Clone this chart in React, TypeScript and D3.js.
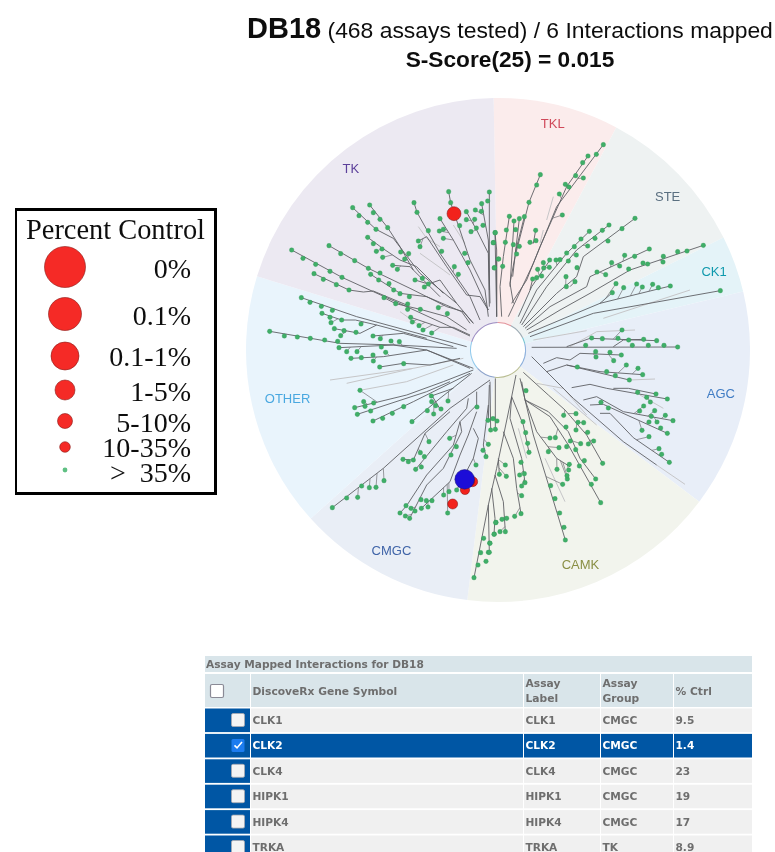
import React from "react";
import * as d3 from "d3";

type Pt = number[];

// kinome sectors, clockwise from north (degrees)
const sectorNames = ["TKL", "STE", "CK1", "AGC", "CAMK", "CMGC", "OTHER", "TK"];
const sectorStart = [-1, 28, 63.5, 76.6, 127, 187, 228, 287];
const sectorEnd = [28, 63.5, 76.6, 127, 187, 228, 287, 359];
const sectorFill = ["#fbecec", "#eef2f2", "#e4f3f8", "#e8eef8", "#f2f4ed", "#e9eef6", "#e9f4fc", "#ece9f2"];
const sectorInk = ["#d04a5a", "#5a6f80", "#1199ad", "#3f7cc4", "#8a8f45", "#3f64a8", "#4aa8e0", "#5b3f9a"];
const labelAngle = [13.6, 47.8, 70, 101, 159, 208, 257, 321];
const labelRadius = [233, 229, 230, 227, 230, 227, 216, 234];

// tree, one set per quadrant of the map
const tkLeaves: Pt[] = [[155,480],[189,505],[227,523],[270,544],[306,562],[222,551],[250,568],[289,584],[327,600],[267,467],[302,491],[344,512],[385,535],[420,549],[392,553],[416,570],[447,581],[461,600],[480,611],[508,620],[432,623],[467,641],[503,642],[503,658],[541,658],[595,653],[622,671],[512,682],[517,696],[537,707],[549,720],[575,729],[338,353],[357,377],[383,397],[408,418],[389,345],[400,368],[420,388],[443,413],[383,442],[400,461],[409,484],[426,477],[428,502],[482,486],[506,491],[494,507],[458,526],[472,538],[525,570],[547,565],[565,582],[553,591],[522,338],[531,367],[565,422],[598,423],[610,418],[610,445],[600,386],[535,453],[540,470],[605,484],[626,305],[632,338],[659,407],[674,490],[684,518],[643,530],[655,553],[679,365],[679,389],[706,360],[704,388],[725,341],[724,364],[743,333],[748,306],[693,425],[709,414],[729,406],[765,428],[760,458],[775,507],[763,533]];
const tkLimbs: Pt[][] = [
  [[690,738],[620,705],[500,650],[400,605],[306,562],[155,480]],
  [[500,645],[400,603],[370,606],[327,600],[222,551]],
  [[700,700],[670,665],[620,650],[510,595],[385,535],[267,467]],
  [[690,735],[640,712],[600,712],[512,682]],
  [[690,700],[665,665],[560,620],[480,610],[392,553]],
  [[680,720],[620,680],[541,658],[467,641],[432,623]],
  [[700,700],[650,640],[540,550],[460,445],[408,418],[338,353]],
  [[520,540],[480,470],[443,413],[389,345]],
  [[610,610],[530,530],[480,510],[428,475],[383,442]],
  [[600,620],[510,530],[458,526]],
  [[650,640],[600,570],[565,582],[525,570]],
  [[720,690],[690,620],[600,490],[531,367],[522,338]],
  [[745,660],[690,540],[640,450],[600,386]],
  [[745,660],[720,620],[680,615],[620,530],[560,440],[535,453]],
  [[745,680],[735,600],[690,510],[632,338],[626,305]],
  [[748,650],[745,490],[710,420],[679,365]],
  [[750,640],[745,450],[725,341]],
  [[748,600],[748,306]],
  [[770,680],[770,480],[765,428]],
  [[770,680],[770,510],[775,507]],
];
const tkGhosts: Pt[][] = [[[535,410],[560,445],[600,470]],[[540,490],[610,540],[630,555]],[[640,405],[675,460]],[[480,665],[530,700]]];

const otherNorthLeaves: Pt[] = [[184,623],[210,637],[244,649],[277,661],[246,670],[270,682],[305,690],[273,698],[363,702],[283,716],[312,722],[348,727],[302,737],[399,738],[421,746],[453,753],[478,755],[89,724],[133,738],[172,741],[211,745],[254,750],[293,754]];
const otherNorthLimbs: Pt[][] = [
  [[650,775],[470,765],[300,760],[89,724]],
  [[640,770],[490,730],[399,738]],
  [[680,770],[350,680],[184,623]],
  [[560,745],[410,705],[346,690],[305,690],[246,670]],
  [[410,705],[360,730],[283,716]],
];
const otherSouthLeaves: Pt[] = [[297,8],[320,20],[351,20],[424,6],[437,22],[333,40],[364,38],[399,30],[400,48],[419,66],[491,56],[360,136],[574,153],[371,170],[401,174],[375,184],[344,188],[392,198],[352,208],[491,185],[457,205],[428,220],[399,228],[516,230],[562,197],[581,207],[603,192],[587,182],[575,170],[624,168]];
const otherSouthLimbs: Pt[][] = [
  [[690,70],[560,15],[460,0],[297,8]],
  [[700,70],[560,15],[430,35],[333,40]],
  [[660,40],[570,60],[490,55],[419,66]],
  [[700,75],[610,110],[500,150],[344,188]],
  [[630,110],[560,140],[352,208]],
  [[690,85],[600,130],[520,170],[399,228]],
  [[695,85],[600,160],[516,230]],
  [[640,130],[574,153]],
  [[575,150],[600,192]],
];
const otherSouthGhosts: Pt[][] = [[[670,40],[520,70],[270,105]],[[520,70],[320,115]],[[640,60],[500,110],[360,136]]];

const cmgcLeaves: Pt[] = [[277,488],[320,459],[353,457],[365,423],[388,428],[408,427],[432,407],[489,343],[505,350],[520,345],[541,323],[553,335],[567,290],[527,373],[544,366],[629,280],[649,305],[633,330],[711,186],[744,226],[759,221],[771,228],[752,255],[766,253],[745,298],[729,316],[738,335],[708,360],[650,435],[627,440],[611,450],[576,467],[559,467],[543,464],[498,482],[513,490],[480,504],[496,513],[509,520],[525,498],[544,490],[564,486],[623,504]];
const cmgcLimbs: Pt[][] = [
  [[750,105],[630,190],[430,370],[277,488]],
  [[630,200],[555,265],[520,345],[489,343]],
  [[685,160],[680,190],[620,260],[527,373]],
  [[710,140],[710,180],[660,230],[640,300],[560,390],[500,482],[480,504]],
  [[660,230],[665,260],[610,370],[560,420],[509,520]],
  [[710,200],[685,270],[660,330],[630,410],[544,490]],
  [[700,250],[715,280],[700,340],[650,435]],
  [[748,120],[745,226]],
  [[750,110],[752,255]],
  [[766,100],[766,253]],
  [[745,180],[730,300],[738,335]],
];

const camkWestLeaves: Pt[] = [[768,532],[763,567],[731,580],[749,594],[722,623],[745,622],[738,649],[714,660],[702,698]];
const camkLeaves: Pt[] = [[108,137],[99,230],[107,263],[113,295],[117,322],[93,352],[46,360],[28,388],[49,394],[89,390],[103,386],[105,413],[95,423],[95,452],[93,506],[74,514],[50,520],[36,523],[17,533],[12,568],[30,560],[46,560],[0,595],[-2,622],[182,422],[218,418],[195,461],[209,504],[222,547],[226,585],[201,373],[232,402],[236,375],[238,358],[231,392],[268,363],[283,347],[338,355],[317,402],[304,418],[332,473],[175,320],[207,308],[180,279],[196,278],[228,246],[221,211],[258,206],[264,232],[281,233],[258,255],[293,262],[241,288],[230,305],[257,314],[272,296],[295,297],[311,288]];
const camkLimbs: Pt[][] = [
  [[100,82],[175,150],[225,195],[290,270],[338,355]],
  [[105,165],[175,200],[235,260],[270,340],[317,402]],
  [[105,165],[180,215],[235,300],[332,473]],
  [[95,110],[105,165],[140,260],[200,340],[240,365]],
  [[90,100],[130,270],[226,585]],
  [[78,90],[65,155],[100,240],[117,322]],
  [[65,155],[60,220],[95,340],[105,413]],
  [[40,260],[70,340],[80,430],[93,506]],
  [[65,155],[20,370],[-5,480],[-48,698]],
  [[25,340],[28,388]],
  [[15,390],[40,470],[46,560]],
  [[5,430],[15,520],[12,568]],
  [[-5,480],[-2,622]],
];
const camkGhosts: Pt[][] = [[[140,115],[220,130],[290,210]],[[190,130],[320,240]],[[165,340],[225,470]],[[85,250],[110,340]]];

const agcNorthLeaves: Pt[] = [[396,720],[305,744],[337,746],[384,745],[416,750],[461,748],[500,752],[522,766],[563,771],[287,766],[427,766],[475,766]];
const agcNorthLimbs: Pt[][] = [[[125,772],[563,771]],[[230,770],[300,745],[500,752]],[[370,770],[400,750],[461,748]]];
const agcNorthGhosts: Pt[][] = [[[240,770],[320,725],[435,720]]];
const agcLeaves: Pt[] = [[317,20],[360,22],[394,30],[318,36],[371,47],[262,66],[409,60],[444,70],[350,80],[376,92],[458,89],[418,105],[443,142],[470,157],[498,147],[532,162],[481,171],[461,183],[333,172],[355,189],[449,198],[494,197],[526,211],[549,227],[484,214],[477,231],[501,231],[512,249],[532,265],[456,256],[477,275],[507,311],[515,328],[538,352]];
const agcLimbs: Pt[][] = [
  [[160,55],[200,38],[240,45],[270,25],[394,30]],
  [[170,80],[230,60],[330,80],[458,89]],
  [[230,60],[418,105]],
  [[245,128],[300,118],[350,130],[532,162]],
  [[280,165],[320,155],[400,200],[549,227]],
  [[300,180],[340,178],[532,265]],
  [[330,205],[360,205],[430,278],[538,352]],
  [[125,35],[250,160],[400,290],[500,360]],
  [[370,130],[415,130],[498,147]],
];
const agcGhosts: Pt[][] = [[[418,105],[495,102]],[[500,360],[585,418]],[[450,150],[520,190]]];

const ck1Leaves: Pt[] = [[691,602],[541,588],[505,593],[488,583],[457,591],[440,582],[401,593],[378,581],[367,608]];
const ck1Limbs: Pt[][] = [[[115,730],[330,640],[541,588]],[[120,740],[310,670],[691,602]],[[330,640],[367,608]]];
const ck1Ghosts: Pt[][] = [[[340,685],[600,600]],[[130,750],[290,722]]];
const steLeaves: Pt[] = [[640,466],[591,483],[563,485],[520,499],[519,516],[473,522],[459,519],[478,477],[434,499],[416,537],[404,496],[389,528],[365,518],[347,554],[321,546],[255,575],[229,590],[228,560],[261,533],[235,513],[259,495],[230,489],[253,470],[273,447],[298,424],[315,445],[293,468],[337,421],[357,405],[396,416],[354,453],[435,385],[210,509],[198,510],[179,510],[160,518],[161,534],[143,538],[178,532],[155,558],[140,563],[128,567]];
const steLimbs: Pt[][] = [
  [[90,700],[140,600],[230,490],[298,424]],
  [[95,705],[170,590],[260,480],[357,405]],
  [[100,710],[200,610],[260,560],[280,500],[435,385]],
  [[105,715],[180,650],[290,590],[300,560],[478,477]],
  [[110,720],[210,660],[300,610],[420,540],[640,466]],
  [[85,680],[125,590],[180,510]],
  [[120,600],[128,567]],
  [[240,590],[255,575]],
];
const tklLeaves: Pt[] = [[340,164],[319,193],[294,198],[278,218],[280,264],[257,257],[226,283],[237,291],[208,312],[217,375],[151,254],[140,285],[117,337],[103,380],[88,386],[72,393],[58,379],[49,420],[77,419],[137,421],[120,457],[138,452],[46,457],[70,464],[88,469],[80,492],[16,428],[10,458],[26,507],[38,529],[13,534]];
const tklLimbs: Pt[][] = [
  [[55,680],[130,520],[200,350],[340,164]],
  [[65,640],[110,570],[150,470],[230,290],[294,198]],
  [[70,640],[60,580],[75,500],[117,337],[151,254]],
  [[35,680],[30,590],[40,500],[58,379]],
  [[20,680],[15,428]],
  [[60,590],[72,393]],
  [[68,560],[88,386]],
  [[75,490],[103,380]],
  [[130,460],[137,421]],
];
const tklGhosts: Pt[][] = [[[170,390],[190,320]],[[160,420],[150,460]]];

// hits: name, map position, percent-control class radius
const hitNames = ["TRKA", "CLK1", "CLK4", "HIPK4", "HIPK1"];
const hitPoints: Pt[] = [[642,371],[698,410],[638,477],[675,435],[690,410]];
const hitRadius = [7, 5, 5, 4.6, 4.6];
const hitQuadrant = ["nw", "sw", "sw", "sw", "sw"];
const hitDrug: Pt = [674,403];

const legendLabels = ["0%", "0.1%", "0.1-1%", "1-5%", "5-10%", "10-35%", ">  35%"];
const legendRadius = [20.5, 16.5, 14, 10, 7.5, 5.3, 2.4];
const legendY = [267, 314, 356, 390, 421, 447, 470];
const legendBase = [278, 325, 366, 401, 432, 457, 482];

const columnHeads = ["DiscoveRx Gene Symbol", "Assay|Label", "Assay|Group", "% Ctrl"];
const genes = ["CLK1", "CLK2", "CLK4", "HIPK1", "HIPK4", "TRKA"];
const groups = ["CMGC", "CMGC", "CMGC", "CMGC", "CMGC", "TK"];
const pctCtrl = ["9.5", "1.4", "23", "19", "17", "8.9"];

const W = 775;
const H = 852;
const cx = 498;
const cy = 350;
const rOuter = 252;
const rHub = 27;

const xq: Record<string, d3.ScaleLinear<number, number>> = {
  nw: d3.scaleLinear([0, 780], [240, 500]),
  sw: d3.scaleLinear([0, 780], [240, 500]),
  ne: d3.scaleLinear([0, 810], [490, 760]),
  se: d3.scaleLinear([0, 810], [490, 760]),
};
const yq: Record<string, d3.ScaleLinear<number, number>> = {
  nw: d3.scaleLinear([0, 780], [90, 350]),
  ne: d3.scaleLinear([0, 780], [90, 350]),
  sw: d3.scaleLinear([0, 780], [345, 605]),
  se: d3.scaleLinear([0, 780], [345, 605]),
};

const layers = [
  { q: "nw", leaves: tkLeaves, limbs: tkLimbs, ghosts: tkGhosts },
  { q: "nw", leaves: otherNorthLeaves, limbs: otherNorthLimbs, ghosts: [] },
  { q: "sw", leaves: otherSouthLeaves, limbs: otherSouthLimbs, ghosts: otherSouthGhosts },
  { q: "sw", leaves: cmgcLeaves, limbs: cmgcLimbs, ghosts: [] },
  { q: "sw", leaves: camkWestLeaves, limbs: [], ghosts: [] },
  { q: "se", leaves: camkLeaves, limbs: camkLimbs, ghosts: camkGhosts },
  { q: "ne", leaves: agcNorthLeaves, limbs: agcNorthLimbs, ghosts: agcNorthGhosts },
  { q: "se", leaves: agcLeaves, limbs: agcLimbs, ghosts: agcGhosts },
  { q: "ne", leaves: ck1Leaves, limbs: ck1Limbs, ghosts: ck1Ghosts },
  { q: "ne", leaves: steLeaves, limbs: steLimbs, ghosts: [] },
  { q: "ne", leaves: tklLeaves, limbs: tklLimbs, ghosts: tklGhosts },
];

const toRad = (deg: number) => (deg * Math.PI) / 180;

// twig from a leaf back to the nearest limb, joined a little nearer the root
function twigEnd(leaf: Pt, limbs: Pt[][]): Pt | null {
  let best: Pt | null = null;
  let bestD = Infinity;
  for (const limb of limbs) {
    for (let i = 0; i < limb.length - 1; i++) {
      const [ax, ay] = limb[i];
      const [bx, by] = limb[i + 1];
      const dx = bx - ax;
      const dy = by - ay;
      const len2 = dx * dx + dy * dy;
      const t = Math.max(0, Math.min(1, ((leaf[0] - ax) * dx + (leaf[1] - ay) * dy) / len2));
      const px = ax + t * dx;
      const py = ay + t * dy;
      const d = Math.hypot(leaf[0] - px, leaf[1] - py);
      if (d < bestD) {
        bestD = d;
        const back = Math.min(d * 0.9, t * Math.sqrt(len2)) / Math.sqrt(len2);
        best = [px - back * dx, py - back * dy];
      }
    }
  }
  return best;
}

const sans = "'Liberation Sans', Arial, sans-serif";
const serif = "'Liberation Serif', 'Times New Roman', serif";
const tableFont = "'DejaVu Sans', Verdana, sans-serif";

export default function App() {
  const arc = d3.arc<any>();
  const rows = d3.scaleLinear([0, 1], [708.5, 733.9]);
  const tableInk = "#6e6e6e";
  const colX = [205, 250, 523, 600, 673, 752];

  return (
    <svg width={W} height={H} viewBox={`0 0 ${W} ${H}`} style={{ position: "absolute", left: 0, top: 0, background: "#fff" }}>
      <defs>
        <filter id="soft" x="0" y="0" width="100%" height="100%">
          <feGaussianBlur stdDeviation="0.4" />
        </filter>
      </defs>
      <g filter="url(#soft)">
        <text x={247} y={38} fontFamily={sans} fontSize={22.9} fill="#111">
          <tspan fontWeight="bold" fontSize={29}>DB18</tspan>
          <tspan> (468 assays tested) / 6 Interactions mapped</tspan>
        </text>
        <text x={510} y={67} textAnchor="middle" fontFamily={sans} fontSize={22.7} fontWeight="bold" fill="#111">
          S-Score(25) = 0.015
        </text>

        <g transform={`translate(${cx},${cy})`}>
          {sectorNames.map((n, i) => (
            <path
              key={n}
              fill={sectorFill[i]}
              d={arc({ innerRadius: 0, outerRadius: rOuter, startAngle: toRad(sectorStart[i]), endAngle: toRad(sectorEnd[i]) }) as string}
            />
          ))}
          {sectorNames.map((n, i) => {
            const [lx, ly] = d3.pointRadial(toRad(labelAngle[i]), labelRadius[i]);
            return (
              <text key={n} x={lx} y={ly + 4.5} textAnchor="middle" fontFamily={sans} fontSize={13} fill={sectorInk[i]}>
                {n}
              </text>
            );
          })}
        </g>

        {layers.map((layer, li) => {
          const x = xq[layer.q];
          const y = yq[layer.q];
          const line = d3.line<Pt>().x((d) => x(d[0])).y((d) => y(d[1]));
          return (
            <g key={li} fill="none">
              {layer.ghosts.map((g, i) => (
                <path key={i} d={line(g) as string} stroke="#c6c6c8" strokeWidth={1} />
              ))}
              {layer.limbs.map((l, i) => (
                <path key={i} d={line(l) as string} stroke="#5f6064" strokeWidth={0.9} />
              ))}
              {layer.leaves.map((p, i) => {
                const end = twigEnd(p, layer.limbs);
                return end ? <path key={i} d={line([p, end]) as string} stroke="#727377" strokeWidth={0.7} /> : null;
              })}
            </g>
          );
        })}

        <g transform={`translate(${cx},${cy})`}>
          <circle r={rHub} fill="#fff" />
          {sectorNames.map((n, i) => (
            <path
              key={n}
              fill={sectorInk[i]}
              opacity={0.55}
              d={arc({ innerRadius: rHub, outerRadius: rHub + 1, startAngle: toRad(sectorStart[i]), endAngle: toRad(sectorEnd[i]) }) as string}
            />
          ))}
        </g>

        {layers.map((layer, li) =>
          layer.leaves.map((p, i) => (
            <circle key={`${li}-${i}`} cx={xq[layer.q](p[0])} cy={yq[layer.q](p[1])} r={2.3} fill="#3fae67" stroke="#2f9656" strokeWidth={0.3} />
          ))
        )}

        {hitNames.map((n, i) => (
          <circle key={n} cx={xq[hitQuadrant[i]](hitPoints[i][0])} cy={yq[hitQuadrant[i]](hitPoints[i][1])} r={hitRadius[i]} fill="#f2211f" stroke="#7a1512" strokeWidth={0.5} />
        ))}
        <circle cx={xq.sw(hitDrug[0])} cy={yq.sw(hitDrug[1])} r={9.8} fill="#1c10d8" stroke="#14106a" strokeWidth={0.5} />

        <rect x={15.5} y={209.5} width={200} height={284} fill="#fff" stroke="#000" strokeWidth={3} />
        <text x={115.5} y={239} textAnchor="middle" fontFamily={serif} fontSize={28.4} fill="#111">
          Percent Control
        </text>
        {legendLabels.map((t, i) => {
          const last = i === legendLabels.length - 1;
          return (
            <g key={t}>
              <circle cx={65} cy={legendY[i]} r={legendRadius[i]} fill={last ? "#5ec083" : "#f52b27"} stroke={last ? "none" : "#8a1a16"} strokeWidth={0.6} />
              <text x={191} y={legendBase[i]} textAnchor="end" fontFamily={serif} fontSize={28} fill="#111" style={{ whiteSpace: "pre" }}>
                {t}
              </text>
            </g>
          );
        })}

        <rect x={colX[0]} y={656} width={colX[5] - colX[0]} height={16} fill="#d9e5ea" />
        <text x={206} y={668} fontFamily={tableFont} fontSize={10.6} fontWeight="bold" fill={tableInk}>
          Assay Mapped Interactions for DB18
        </text>
        {colX.slice(0, 5).map((c, i) => (
          <rect key={c} x={c + (i ? 1 : 0)} y={674} width={colX[i + 1] - c - (i ? 1 : 0)} height={33} fill="#d9e5ea" />
        ))}
        <rect x={210.5} y={684.5} width={13} height={13} rx={1.5} fill="#fff" stroke="#8a8a96" strokeWidth={1.2} />
        {columnHeads.map((h, i) => {
          const parts = h.split("|");
          return parts.map((p, j) => (
            <text key={p + i} x={colX[i + 1] + 2.5} y={parts.length > 1 ? 687 + j * 15 : 695} fontFamily={tableFont} fontSize={10.7} fontWeight="bold" fill={tableInk}>
              {p}
            </text>
          ));
        })}

        {genes.map((g, i) => {
          const y0 = rows(i);
          const sel = g === "CLK2";
          const ink = sel ? "#fff" : tableInk;
          const cells = [g, g, groups[i], pctCtrl[i]];
          return (
            <g key={g}>
              <rect x={colX[0]} y={y0} width={colX[1] - colX[0]} height={23.6} fill="#0057a4" />
              {cells.map((c, j) => (
                <g key={j}>
                  <rect x={colX[j + 1] + 1} y={y0} width={colX[j + 2] - colX[j + 1] - 1} height={23.6} fill={sel ? "#0057a4" : "#f0f0f0"} />
                  <text x={colX[j + 1] + 2.5} y={y0 + 15.5} fontFamily={tableFont} fontSize={10.6} fontWeight="bold" fill={ink}>
                    {c}
                  </text>
                </g>
              ))}
              <rect x={231.5} y={y0 + 5} width={13} height={13} rx={1.5} fill={sel ? "#1a7cf0" : "#f4f4f4"} stroke={sel ? "none" : "#a8a8b0"} strokeWidth={0.8} />
              {sel && (
                <path
                  d={d3.line()([[234.5, y0 + 11.5], [237, y0 + 14], [242, y0 + 8]]) as string}
                  fill="none"
                  stroke="#fff"
                  strokeWidth={1.6}
                />
              )}
            </g>
          );
        })}
      </g>
    </svg>
  );
}
